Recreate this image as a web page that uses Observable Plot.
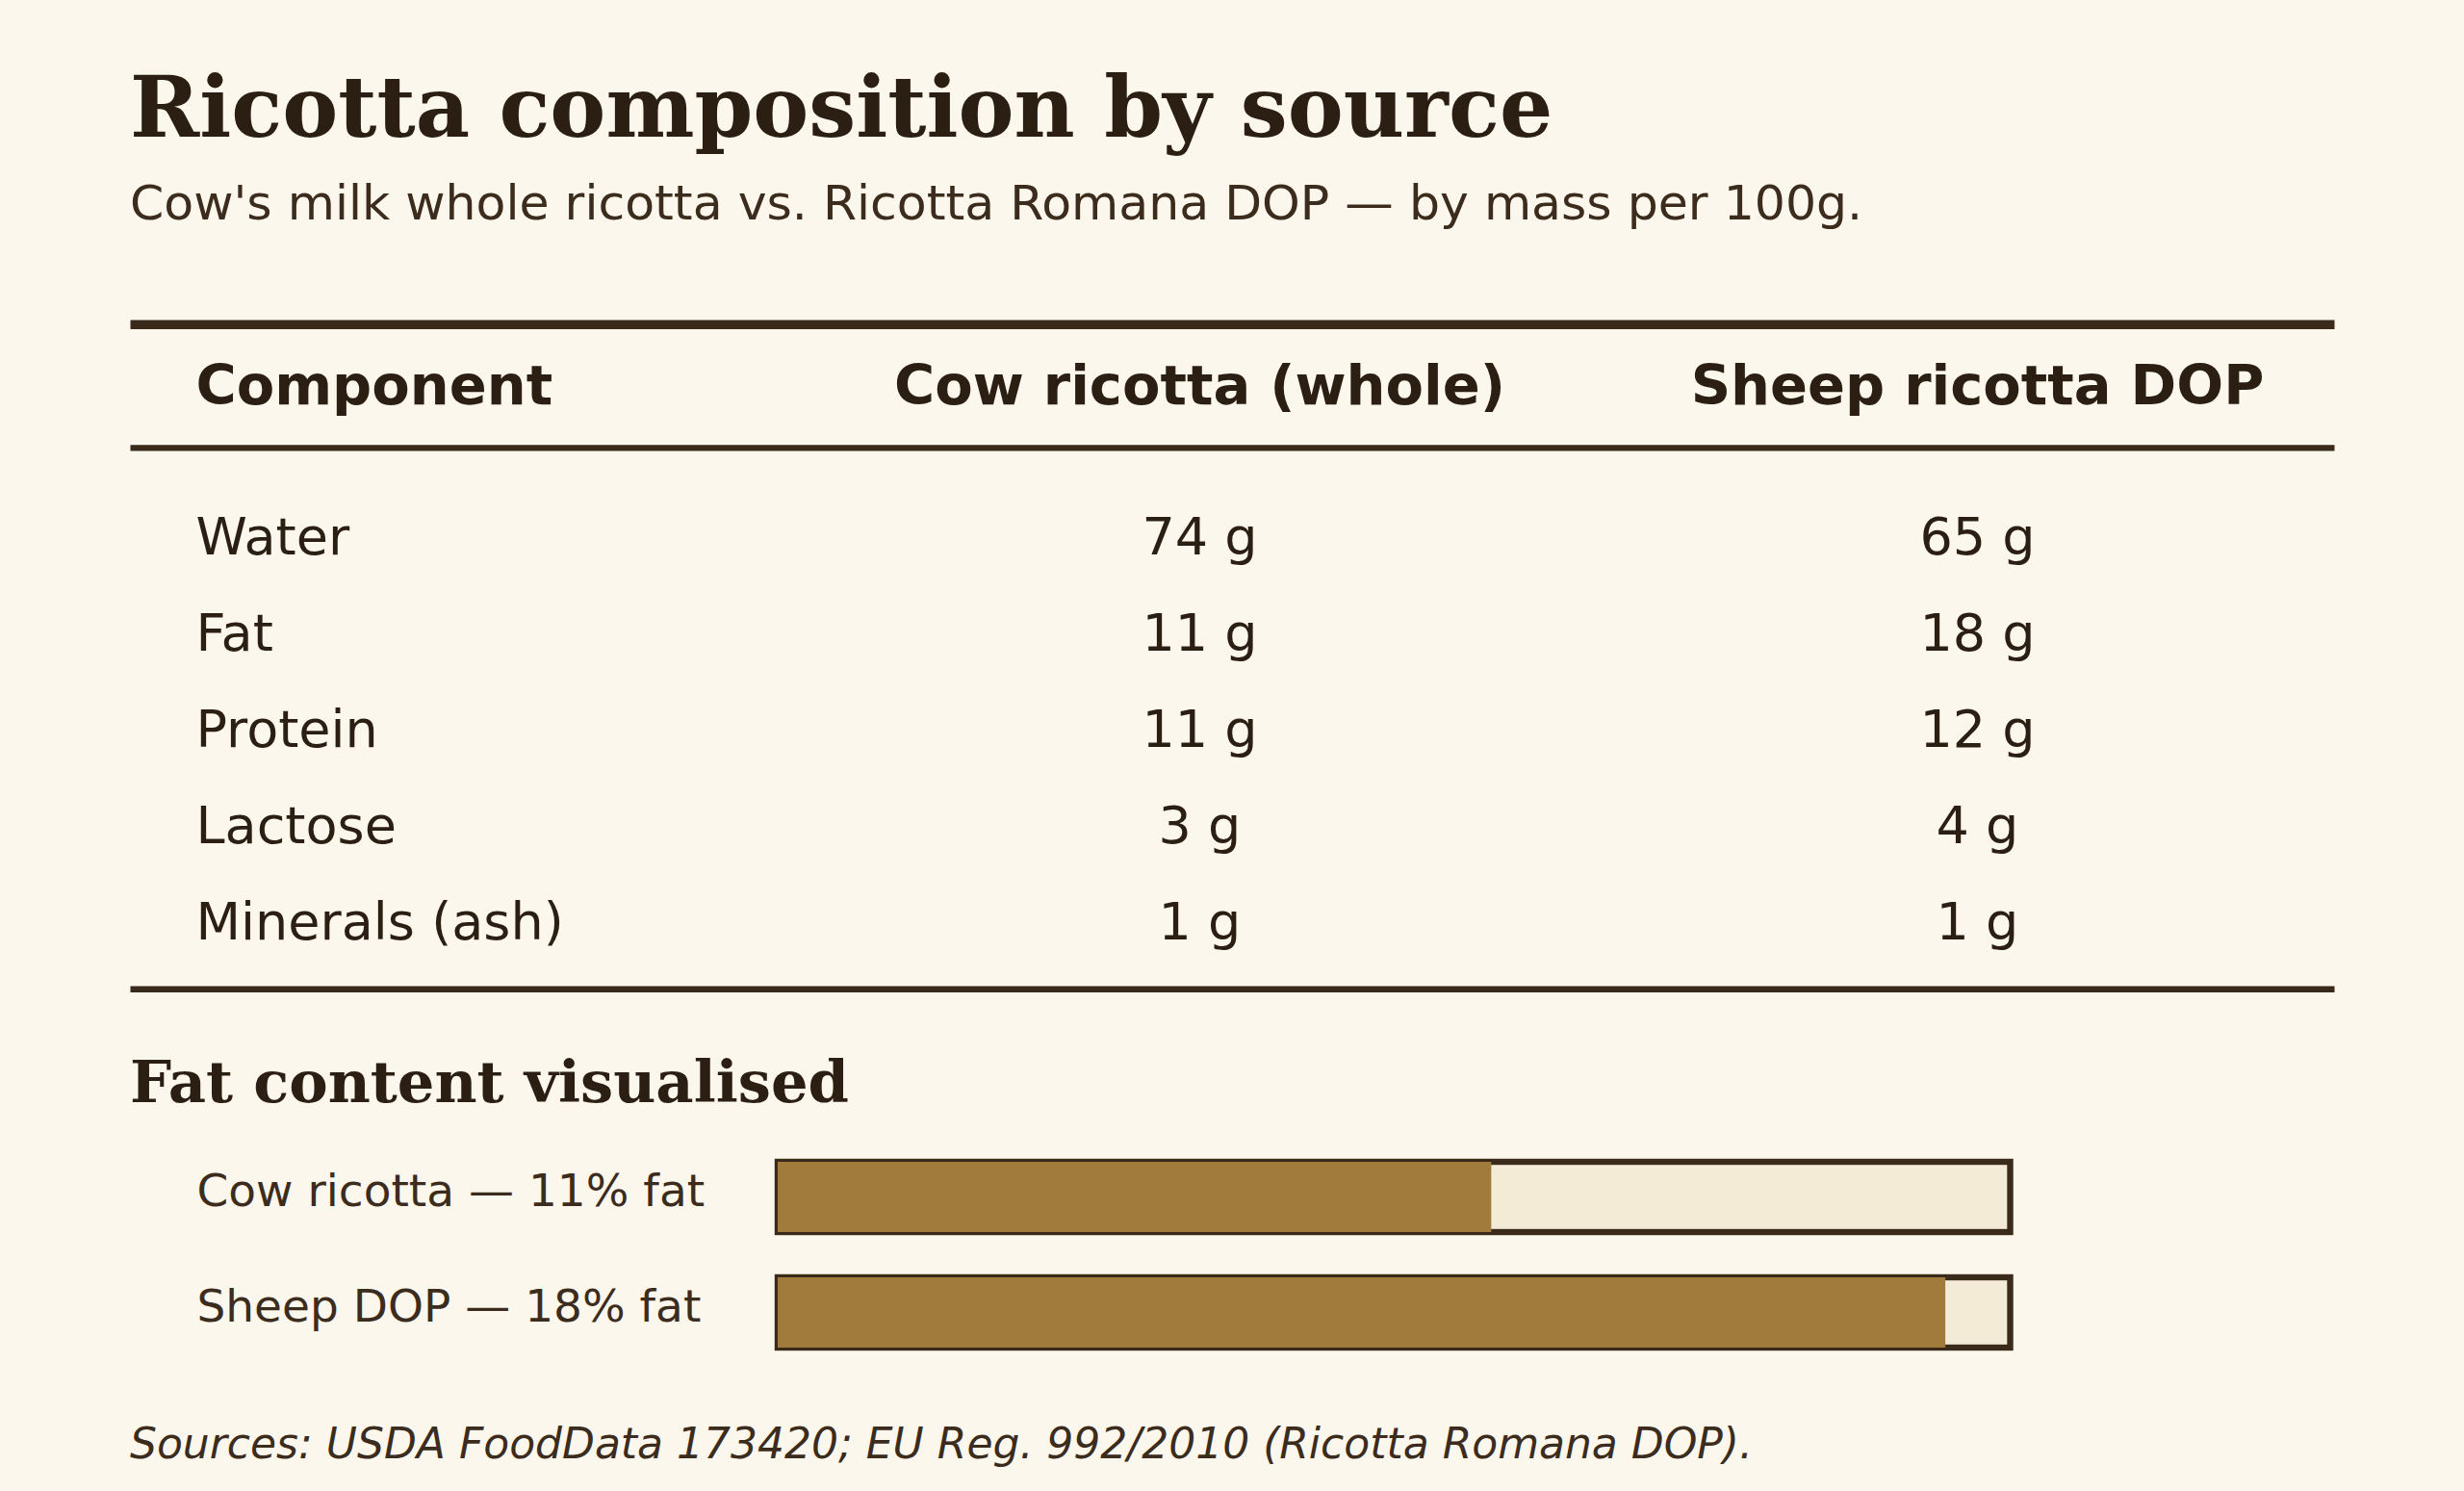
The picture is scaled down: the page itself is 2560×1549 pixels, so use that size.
<!DOCTYPE html>
<html>
<head>
<meta charset="utf-8">
<script src="https://cdn.jsdelivr.net/npm/d3@7"></script>
<script src="https://cdn.jsdelivr.net/npm/@observablehq/plot@0.6"></script>
<style>
  html, body { margin: 0; padding: 0; width: 2560px; height: 1549px; overflow: hidden; background: #fcf7ec; }
  .abs { position: absolute; left: 135px; white-space: nowrap; }
  #title { top: 68.4px; font: bold 87px/87px "DejaVu Serif"; color: #2b1e12; }
  #subtitle { top: 186.3px; font: 50.5px/50.5px "DejaVu Sans"; color: #3b2c1d; }
  #heading { top: 1093.6px; font: bold 60.7px/60.7px "DejaVu Serif"; color: #2b1e12; }
  #caption { top: 1478px; font: italic 44px/44px "DejaVu Sans"; color: #3b2c1d; }
  .plot { position: absolute; left: 0; }
  #head { top: 300px; }
  #body { top: 465px; }
  #bars { top: 1150px; }
</style>
</head>
<body>
<div id="title" class="abs">Ricotta composition by source</div>
<div id="subtitle" class="abs">Cow's milk whole ricotta vs. Ricotta Romana DOP — by mass per 100g.</div>
<div id="head" class="plot"></div>
<div id="body" class="plot"></div>
<div id="heading" class="abs">Fat content visualised</div>
<div id="bars" class="plot"></div>
<div id="caption" class="abs">Sources: USDA FoodData 173420; EU Reg. 992/2010 (Ricotta Romana DOP).</div>
<script>
// ---- data ----
const columnHeaders = ["Component", "Cow ricotta (whole)", "Sheep ricotta DOP"];
const components = ["Water", "Fat", "Protein", "Lactose", "Minerals (ash)"];
const cowValues = [74, 11, 11, 3, 1];
const sheepValues = [65, 18, 12, 4, 1];
const unit = "g";
const fatSources = ["Cow ricotta", "Sheep DOP"];
const fatValues = [11, 18];
const fatScaleMax = 19;

// ---- styles ----
const ink = "#2b1f14";
const soft = "#3b2c1d";
const ruleColor = "#3a2a1a";
const fillColor = "#a07b3c";
const trackColor = "#f4ebd6";
const baseStyle = {background: "transparent", fontFamily: "DejaVu Sans", overflow: "visible", color: ink};

const rows = components.map((c, i) => ({component: c, cow: cowValues[i], sheep: sheepValues[i]}));
const fatRows = fatSources.map((s, i) => ({label: `${s} — ${fatValues[i]}% fat`, fat: fatValues[i]}));

// header
const head = Plot.plot({
  width: 2560, height: 200,
  marginTop: 36.7, marginBottom: 35.1, marginLeft: 135, marginRight: 135,
  style: baseStyle,
  marks: [
    Plot.frame({anchor: "top", stroke: ruleColor, strokeWidth: 9.6, strokeLinecap: "butt"}),
    Plot.frame({anchor: "bottom", stroke: ruleColor, strokeWidth: 6.4, strokeLinecap: "butt"}),
    Plot.text([columnHeaders[0]], {text: d => d, frameAnchor: "left", textAnchor: "start", dx: 68, fontSize: 57.5, fontWeight: "bold", fill: ink}),
    Plot.text([columnHeaders[1]], {text: d => d, frameAnchor: "middle", textAnchor: "middle", dx: -34, fontSize: 57.5, fontWeight: "bold", fill: ink}),
    Plot.text([columnHeaders[2]], {text: d => d, frameAnchor: "middle", textAnchor: "middle", dx: 774, fontSize: 57.5, fontWeight: "bold", fill: ink})
  ]
});
document.getElementById("head").append(head);

// body
const body = Plot.plot({
  width: 2560, height: 600,
  marginTop: 0, marginBottom: 37.8, marginLeft: 135, marginRight: 135,
  style: baseStyle,
  y: {type: "band", domain: components, padding: 0, insetTop: 41, insetBottom: 17, axis: null},
  marks: [
    Plot.frame({anchor: "bottom", stroke: ruleColor, strokeWidth: 6.4, strokeLinecap: "butt"}),
    Plot.text(rows, {y: "component", text: "component", frameAnchor: "left", textAnchor: "start", dx: 68, fontSize: 54, fill: ink}),
    Plot.text(rows, {y: "component", text: d => `${d.cow} ${unit}`, frameAnchor: "middle", textAnchor: "middle", dx: -34, fontSize: 54, fill: ink}),
    Plot.text(rows, {y: "component", text: d => `${d.sheep} ${unit}`, frameAnchor: "middle", textAnchor: "middle", dx: 774, fontSize: 54, fill: ink})
  ]
});
document.getElementById("body").append(body);

// bars
const bars = Plot.plot({
  width: 2560, height: 280,
  marginTop: 56, marginBottom: 29, marginLeft: 808, marginRight: 471.5,
  style: baseStyle,
  x: {domain: [0, fatScaleMax], axis: null},
  y: {type: "band", domain: fatRows.map(d => d.label), paddingInner: 0.388, paddingOuter: 0, axis: null},
  marks: [
    Plot.barX(fatRows, {y: "label", x1: 0, x2: () => fatScaleMax, fill: trackColor, stroke: ruleColor, strokeWidth: 6.4}),
    Plot.barX(fatRows, {y: "label", x1: 0, x2: "fat", fill: fillColor}),
    Plot.text(fatRows, {y: "label", text: "label", frameAnchor: "left", textAnchor: "start", dx: -604, dy: -6, fontSize: 47, fill: soft})
  ]
});
document.getElementById("bars").append(bars);
</script>
</body>
</html>
